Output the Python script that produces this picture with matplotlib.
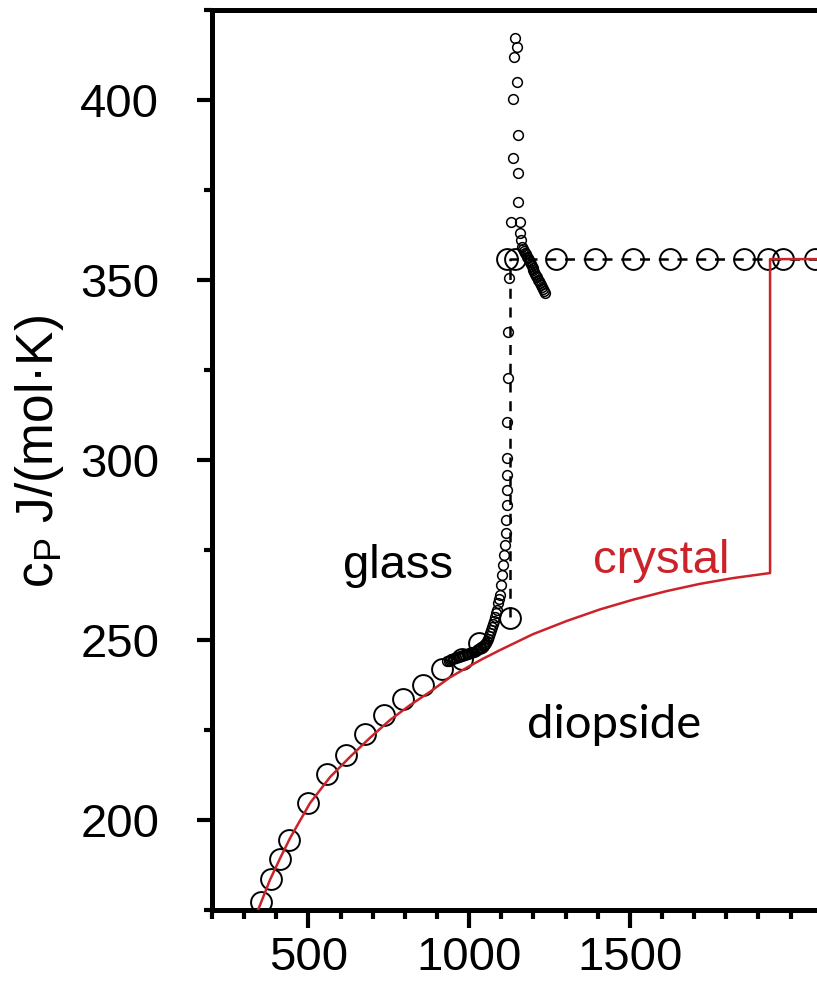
import matplotlib
matplotlib.use("Agg")
import matplotlib.pyplot as plt
from matplotlib.ticker import MultipleLocator, FixedLocator

plt.rcParams['font.family'] = ['Liberation Sans', 'DejaVu Sans']

# ---- data ----
# glass: large open circles (adiabatic calorimetry)
glass_T = [352, 384, 412, 440, 499, 558, 617, 676, 735, 794, 856, 915, 978, 1031, 1127]
glass_cp = [177.2, 183.6, 189.2, 194.4, 204.7, 212.8, 218.1, 223.9, 229.2, 233.6,
            237.5, 241.9, 244.7, 249.2, 256.1]

# liquid: large open circles on the plateau
liquid_T = [1118, 1143, 1270, 1391, 1510, 1625, 1740, 1855, 1929, 1976, 2076]
liquid_cp = [355.8] * len(liquid_T)

# DSC scan: small open circles - rise through the glass transition
rise_T = [931, 936, 940, 945, 950, 954, 959, 964, 968, 973,
          978, 982, 987, 992, 996, 1001, 1006, 1010, 1015, 1020,
          1024, 1029, 1034, 1038, 1043, 1046, 1049, 1052, 1055, 1058,
          1062, 1065, 1068, 1071, 1074, 1077, 1080, 1084, 1087, 1090,
          1093, 1096, 1099, 1102, 1105, 1108, 1111, 1115, 1115, 1118,
          1118, 1118, 1118, 1118, 1121, 1121, 1124]
rise_cp = [244.2, 244.3, 244.4, 244.6, 244.7, 244.9, 245.0, 245.2, 245.3, 245.5,
           245.6, 245.7, 245.8, 246.0, 246.1, 246.3, 246.4, 246.6, 246.7, 247.0,
           247.2, 247.5, 247.8, 248.0, 248.3, 248.6, 248.9, 249.3, 249.7, 250.4,
           251.1, 252.0, 252.8, 253.6, 254.4, 255.4, 256.4, 257.4, 258.3, 260.3,
           261.4, 262.5, 265.3, 268.1, 270.8, 273.6, 276.4, 279.7, 283.3, 287.5,
           291.7, 295.8, 300.6, 310.6, 322.8, 335.6, 350.6]

# DSC scan: overshoot peak
peak_T = [1142, 1149, 1139, 1149, 1136, 1152, 1136, 1152, 1152, 1130, 1158, 1158, 1161]
peak_cp = [417.2, 414.7, 411.9, 405.0, 400.3, 390.3, 383.9, 379.7, 371.7, 366.1,
           366.1, 363.1, 361.1]

# DSC scan: liquid tail
tail_T = [1164, 1167, 1170, 1173, 1176, 1179, 1182, 1185, 1188, 1191,
          1194, 1197, 1200, 1203, 1206, 1209, 1212, 1215, 1218, 1221,
          1224, 1227, 1230, 1233, 1236]
tail_cp = [359.2, 358.7, 358.1, 357.6, 357.1, 356.5, 356.0, 355.5, 354.9, 354.4,
           353.9, 353.3, 352.8, 352.3, 351.7, 351.2, 350.7, 350.1, 349.6, 349.1,
           348.5, 348.0, 347.5, 346.9, 346.4]

# dashed guide: glass transition step and liquid plateau
guide_T = [1127, 1127, 2100]
guide_cp = [256.4, 355.8, 355.8]

# crystal cp (red) with melting step
cryst_T = [334, 346, 380, 412, 443, 505, 567, 629, 691, 754, 816, 878, 940, 1000,
           1043, 1096, 1198, 1304, 1407, 1510, 1615, 1718, 1821, 1936, 1936, 2100]
cryst_cp = [173.6, 175.6, 183.3, 189.4, 195.0, 204.7, 211.9, 217.5, 222.8, 227.8,
            231.9, 235.6, 239.6, 242.7, 244.8, 247.2, 251.6, 255.3, 258.5, 261.2,
            263.6, 265.6, 267.2, 268.6, 355.8, 355.8]

x_major = [500, 1000, 1500]
x_labels = ['500', '1000', '1500']
y_major = [200, 250, 300, 350, 400]
y_labels = ['200', '250', '300', '350', '400']

# ---- figure ----
W, H = 817, 981
fig = plt.figure(figsize=(W / 100, H / 100), dpi=100)
ax = fig.add_axes([212 / W, 1 - 910 / H, (W - 212) / W, 900 / H])
ax.set_xlim(200, 2082)
ax.set_ylim(175, 425)

red = '#cc2229'
big = dict(ls='none', marker='o', ms=15, mfc='none', mec='black', mew=1.4, zorder=3)
small = dict(ls='none', marker='o', ms=7, mfc='none', mec='black', mew=1.1, zorder=3)

ax.plot(guide_T, guide_cp, color='black', lw=1.8, ls=(0, (4, 3.5)), zorder=2)
ax.plot(glass_T, glass_cp, **big)
ax.plot(liquid_T, liquid_cp, **big)
ax.plot(rise_T, rise_cp, **small)
ax.plot(peak_T, peak_cp, **small)
ax.plot(tail_T, tail_cp, **small)
ax.plot(cryst_T, cryst_cp, color=red, lw=1.8, zorder=4)

ax.text(778, 267.2, 'glass', fontsize=34, ha='center', va='baseline', color='black')
ax.text(1597, 268.6, 'crystal', fontsize=34, ha='center', va='baseline', color=red)
ax.text(1450, 222.8, 'diopside', fontsize=34, ha='center', va='baseline',
        color='black', family=['Lato', 'DejaVu Sans'])

# axes styling
for s in ['left', 'bottom', 'top']:
    ax.spines[s].set_linewidth(3.6)
ax.spines['right'].set_visible(False)

ax.xaxis.set_major_locator(FixedLocator(x_major))
ax.set_xticklabels(x_labels)
ax.xaxis.set_minor_locator(MultipleLocator(100))
ax.yaxis.set_major_locator(FixedLocator(y_major))
ax.set_yticklabels(y_labels)
ax.yaxis.set_minor_locator(MultipleLocator(25))

ax.tick_params(axis='both', which='major', direction='out', width=3, labelsize=34)
ax.tick_params(axis='x', which='major', length=13, pad=6)
ax.tick_params(axis='y', which='major', length=11, pad=27)
ax.tick_params(axis='x', which='minor', direction='out', length=6.5, width=3)
ax.tick_params(axis='y', which='minor', direction='out', length=6, width=3)
ax.tick_params(top=False, right=False, which='both')

fig.text(40 / W, 1 - 452 / H, r'c$_\mathregular{P}$ J/(mol·K)', rotation=90,
         fontsize=37, ha='center', va='center')

fig.savefig('out.png', dpi=100)
